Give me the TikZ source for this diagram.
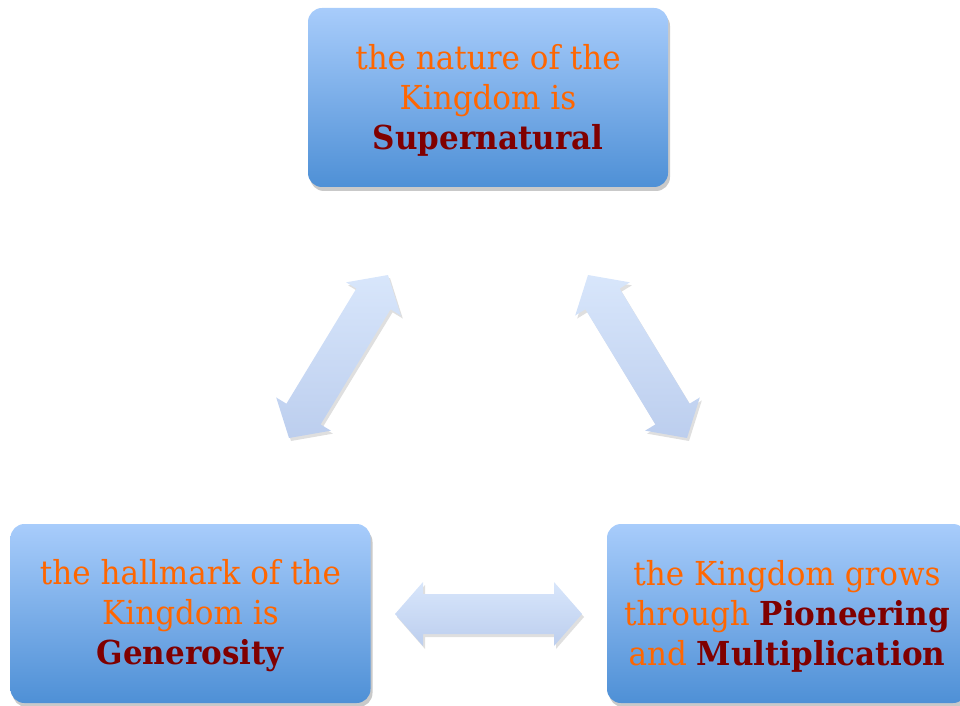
\documentclass[tikz,border=0pt]{standalone}
\usepackage{fontspec}
\setmainfont{DejaVu Serif}[FakeStretch=0.94]
\usetikzlibrary{calc,shadows}
\definecolor{txtorange}{RGB}{255,102,0}
\definecolor{txtred}{RGB}{128,0,0}
\definecolor{boxtop}{RGB}{168,204,251}
\definecolor{boxbot}{RGB}{78,144,214}
\definecolor{arrtop}{RGB}{216,230,251}
\definecolor{arrbot}{RGB}{188,206,238}
\newcommand\kstrut{\rule{0pt}{30pt}}
\newcommand\kblockarrow[2]{%
  \path[arrowfill] let \p1=($(#2)-(#1)$), \n1={atan2(\y1,\x1)}, \n2={veclen(\x1,\y1)} in
    ([shift={(#1)},rotate=\n1]0pt,0pt)
 -- ([shift={(#1)},rotate=\n1]28pt,32pt)
 -- ([shift={(#1)},rotate=\n1]28pt,20pt)
 -- ([shift={(#1)},rotate=\n1]\n2-28pt,20pt)
 -- ([shift={(#1)},rotate=\n1]\n2-28pt,32pt)
 -- ([shift={(#1)},rotate=\n1]\n2,0pt)
 -- ([shift={(#1)},rotate=\n1]\n2-28pt,-32pt)
 -- ([shift={(#1)},rotate=\n1]\n2-28pt,-20pt)
 -- ([shift={(#1)},rotate=\n1]28pt,-20pt)
 -- ([shift={(#1)},rotate=\n1]28pt,-32pt)
 -- cycle;}
\begin{document}
\begin{tikzpicture}[x=1pt,y=1pt,
  box/.style={rounded corners=14pt, top color=boxtop, bottom color=boxbot,
    minimum width=360pt, minimum height=179pt, inner sep=0pt, align=center,
    text=txtorange, font=\fontsize{33}{40}\selectfont,
    drop shadow={shadow xshift=2pt, shadow yshift=-4pt, opacity=.3, fill=black!70}},
  arrowfill/.style={top color=arrtop, bottom color=arrbot,
    drop shadow={shadow xshift=2pt, shadow yshift=-3pt, opacity=.18, fill=black!70}}]
\useasboundingbox (0,0) rectangle (960,705);
\clip (0,0) rectangle (960,705);
\node[box] (top) at (488,607.5) {\kstrut the nature of the\\Kingdom is\\\textcolor{txtred}{\textbf{Supernatural}}};
\node[box] (bl) at (190.5,91.5) {\kstrut the hallmark of the\\Kingdom is\\\textcolor{txtred}{\textbf{Generosity}}};
\node[box] (br) at (787,91.5) {\kstrut the Kingdom grows\\through \textcolor{txtred}{\textbf{Pioneering}}\\and \textcolor{txtred}{\textbf{Multiplication}}};
\coordinate (la) at (289,267);
\coordinate (lb) at (388,430);
\coordinate (ra) at (588,430);
\coordinate (rb) at (687,267);
\coordinate (ha) at (395,91);
\coordinate (hb) at (582,91);
\kblockarrow{la}{lb}
\kblockarrow{ra}{rb}
\kblockarrow{ha}{hb}
\end{tikzpicture}
\end{document}
